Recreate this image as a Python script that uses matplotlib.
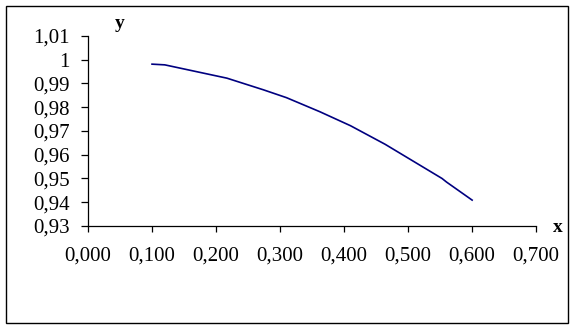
import matplotlib
matplotlib.use('Agg')
import matplotlib.pyplot as plt
from matplotlib.patches import Rectangle
from matplotlib.ticker import FuncFormatter

# curve values
x_vals = [0.100, 0.120, 0.217, 0.274, 0.310, 0.362, 0.410, 0.464, 0.553, 0.560, 0.600]
y_vals = [0.9981, 0.9978, 0.9922, 0.9873, 0.9840, 0.9781, 0.9722, 0.9644, 0.9500, 0.9485, 0.9409]

x_ticks = [0.0, 0.1, 0.2, 0.3, 0.4, 0.5, 0.6, 0.7]
y_ticks = [0.93, 0.94, 0.95, 0.96, 0.97, 0.98, 0.99, 1.00, 1.01]

plt.rcParams['font.family'] = ['Liberation Serif', 'DejaVu Serif']

fig = plt.figure(figsize=(5.79, 3.29), dpi=100)
ax = fig.add_axes([0.152, 0.313, 0.774, 0.578])

ax.plot(x_vals, y_vals, color='#000080', lw=1.2)

ax.set_xlim(0, 0.7)
ax.set_ylim(0.93, 1.01)
ax.set_xticks(x_ticks)
ax.set_yticks(y_ticks)
ax.xaxis.set_major_formatter(FuncFormatter(lambda v, p: ('%.3f' % v).replace('.', ',')))
ax.yaxis.set_major_formatter(FuncFormatter(lambda v, p: ('%g' % round(v, 2)).replace('.', ',')))

for s in ['top', 'right']:
    ax.spines[s].set_visible(False)
for s in ['left', 'bottom']:
    ax.spines[s].set_linewidth(0.9)

ax.tick_params(axis='y', direction='out', length=5, width=0.9, pad=8, labelsize=15)
ax.tick_params(axis='x', direction='out', length=4, width=0.9, pad=11, labelsize=15)

# axis names
fig.text(120 / 579, 1 - 24 / 329, 'y', fontsize=14, fontweight='bold', ha='center', va='center')
fig.text(558 / 579, 1 - 228 / 329, 'x', fontsize=14, fontweight='bold', ha='center', va='center')

# outer chart frame
fig.patches.append(Rectangle((6 / 579, 6 / 329), 562 / 579, 317 / 329, transform=fig.transFigure,
                             fill=False, edgecolor='black', lw=1))

fig.savefig('out.png', dpi=100)
